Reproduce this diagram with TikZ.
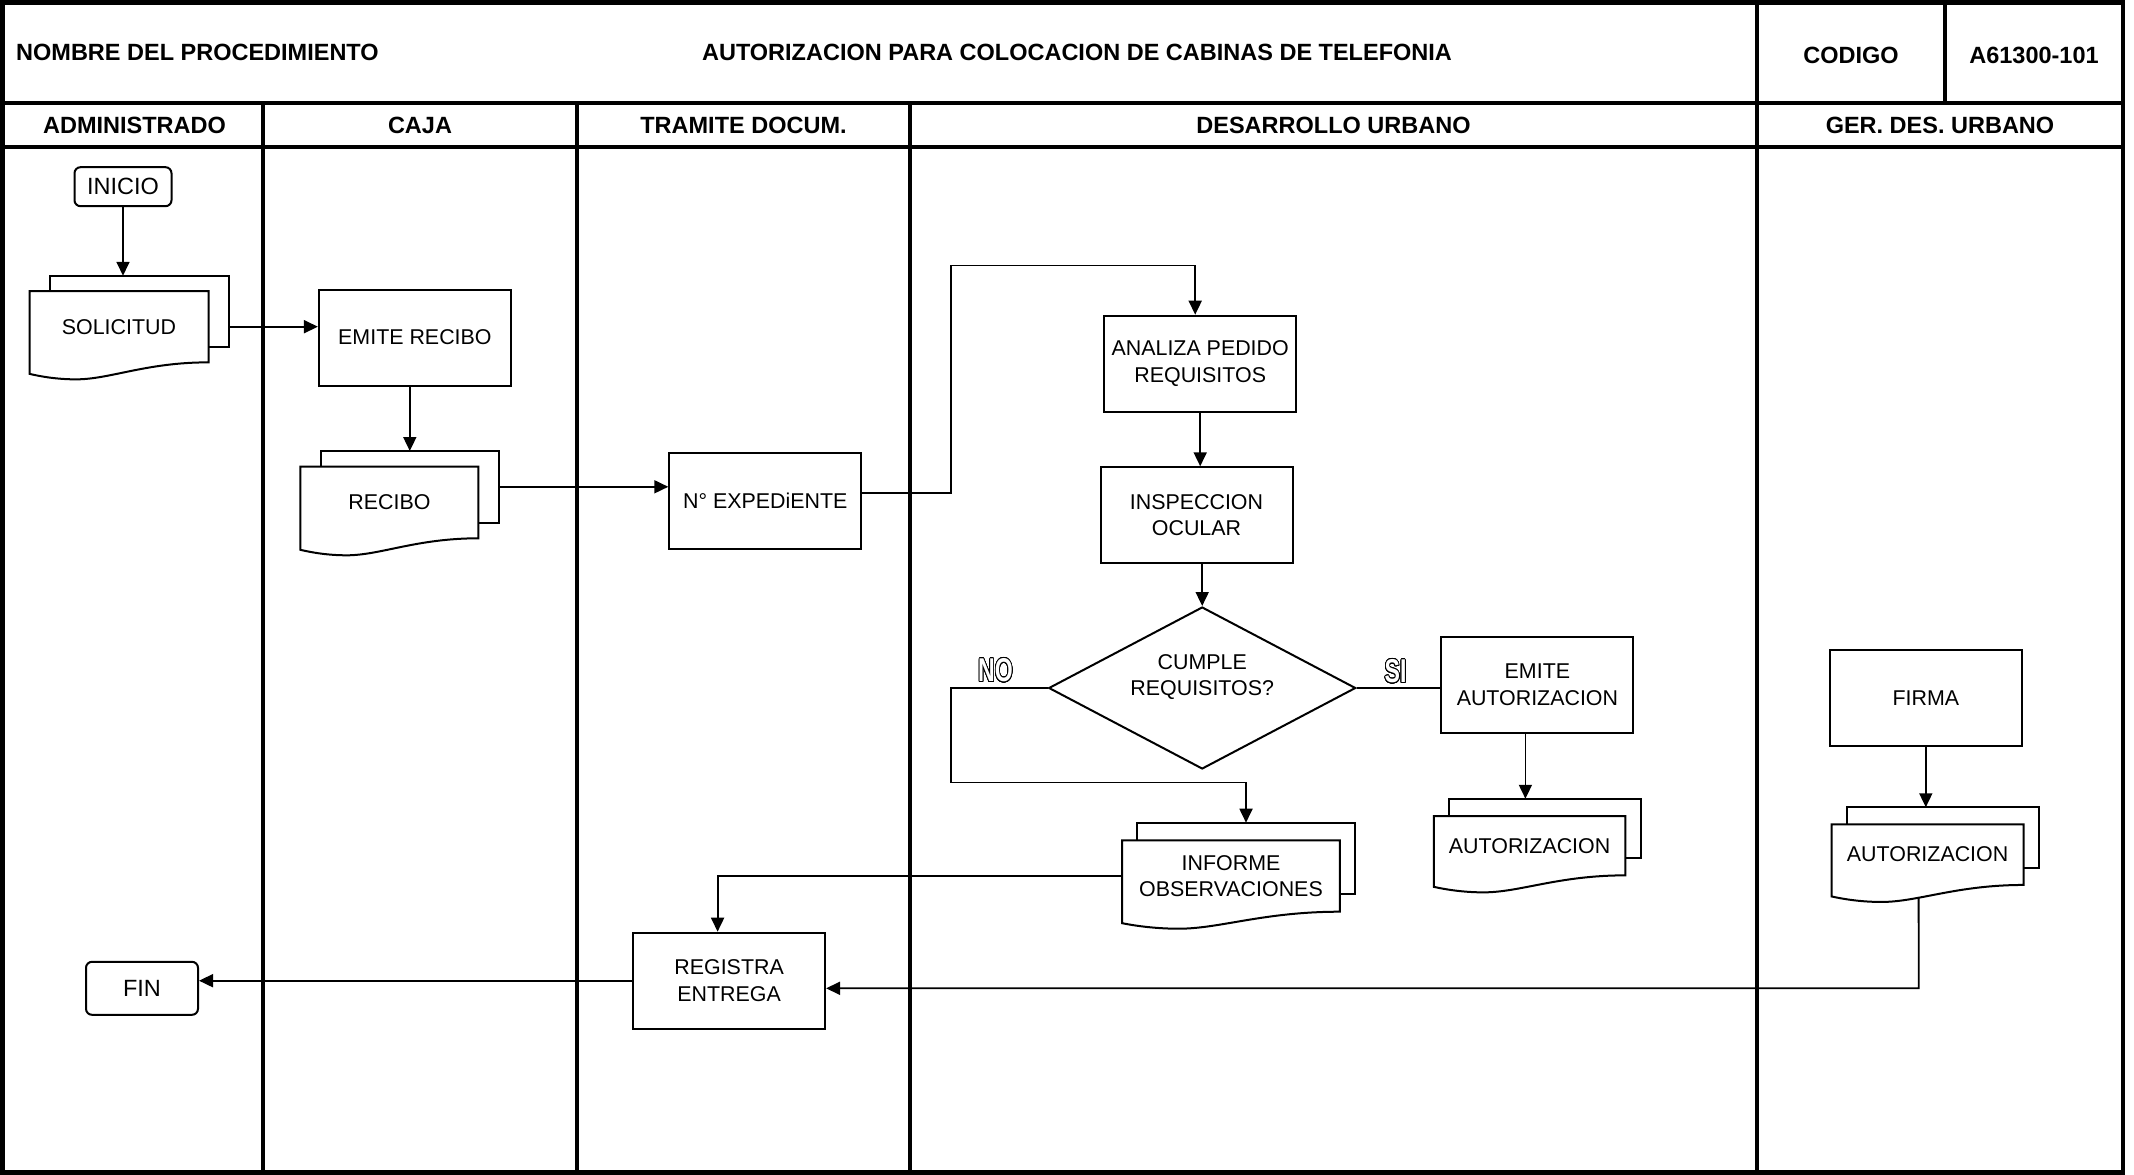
\documentclass[tikz,border=0pt]{standalone}
\usepackage{fontspec}
\setmainfont{Liberation Sans}
\usepackage[copies]{contour}
\contourlength{1.1pt}
\contournumber{24}
\usetikzlibrary{calc,arrows.meta,shapes.geometric}
\newcommand\bodyfnt{\fontsize{21.4pt}{26.5pt}\selectfont}
\newcommand\termfnt{\fontsize{23.5pt}{28pt}\selectfont}
\newcommand\hdrfnt{\fontsize{23.5pt}{28pt}\selectfont\bfseries}
\newcommand\lblfnt{\fontsize{33pt}{36pt}\selectfont\bfseries}
\newcommand\docshape[7]{%
  \node[docback, minimum width=#4pt, minimum height=#5pt] (#1b) at ($(#2,#3)+#6$) {};
  \node[docrect, minimum width=#4pt, minimum height=#5pt] (#1) at (#2,#3) {};
  \draw[docline, fill=white] (#1.north west) -- (#1.north east) -- (#1.south east)
    .. controls ($(#1.south west)!0.65!(#1.south east)$) and ($(#1.south west)!0.45!(#1.south east)+(0,17)$)
    .. ($(#1.south west)!0.26!(#1.south east)+(0,17)$)
    .. controls ($(#1.south west)!0.16!(#1.south east)+(0,17)$) and ($(#1.south west)!0.07!(#1.south east)+(0,14.5)$)
    .. ($(#1.south west)+(0,11.5)$) -- cycle;
  \node[doctext] (#1t) at (#1.center) {#7};
}
\begin{document}
\begin{tikzpicture}[x=1pt,y=-1pt,
  frame/.style={line width=4.5pt},
  hdr/.style={font=\hdrfnt, inner sep=0pt},
  box/.style={draw, line width=2pt, fill=white, minimum width=192pt, minimum height=96pt, align=center, font=\bodyfnt, inner sep=2pt},
  term/.style={draw, line width=2pt, fill=white, rounded corners=6pt, align=center, font=\termfnt, inner sep=2pt},
  decision/.style={draw, line width=2pt, fill=white, diamond, aspect=1.9, minimum width=307pt, minimum height=162pt, inner sep=0pt},
  docback/.style={draw, line width=2pt, fill=white, outer sep=0pt, inner sep=0pt},
  docrect/.style={outer sep=0pt, inner sep=0pt},
  doctext/.style={font=\bodyfnt, align=center, inner sep=0pt},
  docline/.style={line width=2pt, line join=miter},
  conn/.style={line width=1.8pt},
  arr/.style={conn, -{Triangle[length=14pt,width=13pt]}},
  lbl/.style={font=\lblfnt, text=white, inner sep=0pt},
  bodytxt/.style={font=\bodyfnt, align=center, inner sep=0pt}
]
\useasboundingbox (0,0) rectangle (2134,1175);
\fill[white] (0,0) rectangle (2134,1175);

% ---------- frame ----------
\draw[frame] (2.5,2.5) rectangle (2123,1172.5);
\draw[frame] (2.5,103) -- (2123,103);
\draw[frame] (2.5,147) -- (2123,147);
\draw[frame] (263,103) -- (263,1172.5);
\draw[frame] (577,103) -- (577,1172.5);
\draw[frame] (910,103) -- (910,1172.5);
\draw[frame] (1757,2.5) -- (1757,1172.5);
\draw[frame] (1945,2.5) -- (1945,103);

% ---------- header texts ----------
\node[hdr, anchor=west] (tnombre) at (16,52.7) {NOMBRE DEL PROCEDIMIENTO};
\node[hdr] (ttitle) at (1077,52.7) {AUTORIZACION PARA COLOCACION DE CABINAS DE TELEFONIA};
\node[hdr] (tcod) at (1851,55.8) {CODIGO};
\node[hdr] (tcodv) at (2034,55.8) {A61300-101};
\node[hdr] (h1) at (134.5,125) {ADMINISTRADO};
\node[hdr] (h2) at (420,125) {CAJA};
\node[hdr] (h3) at (743.5,125) {TRAMITE DOCUM.};
\node[hdr] (h4) at (1333.5,125) {DESARROLLO URBANO};
\node[hdr] (h5) at (1940,125) {GER. DES. URBANO};

% ---------- shapes ----------
\node[term, minimum width=97pt, minimum height=39pt] (inicio) at (123,186.7) {INICIO};
\node[term, minimum width=112pt, minimum height=53pt] (fin) at (142,988.3) {FIN};

\docshape{sol}{119}{326.7}{179}{71.3}{(20.3,-15.3)}{SOLICITUD}
\docshape{rec}{389.4}{502.5}{178}{71.6}{(20.4,-15.7)}{RECIBO}
\docshape{inf}{1231}{876}{217.6}{71.4}{(15,-17.6)}{INFORME\\OBSERVACIONES}
\docshape{autA}{1529.6}{845.7}{191.5}{59.3}{(15.6,-17.3)}{AUTORIZACION}
\docshape{autB}{1927.6}{854.6}{192}{60.7}{(15.5,-17)}{AUTORIZACION}

\node[box] (emite) at (414.9,337.5) {};
\node[bodytxt] (emitet) at (emite.center) {EMITE RECIBO};
\node[box] (exped) at (765.3,501) {};
\node[bodytxt] (expedt) at (exped.center) {N° EXPEDiENTE};
\node[box] (analiza) at (1200.2,363.7) {};
\node[bodytxt] (analizat) at (analiza.center) {ANALIZA PEDIDO\\REQUISITOS};
\node[box] (insp) at (1196.5,515.3) {};
\node[bodytxt] (inspt) at (insp.center) {INSPECCION\\OCULAR};
\node[box] (emaut) at (1537.4,684.5) {};
\node[bodytxt] (emautt) at (emaut.center) {EMITE\\AUTORIZACION};
\node[box] (firma) at (1925.8,698.3) {};
\node[bodytxt] (firmat) at (firma.center) {FIRMA};
\node[box] (regis) at (729.1,980.7) {};
\node[bodytxt] (regist) at (regis.center) {REGISTRA\\ENTREGA};

\node[decision] (dec) at (1202.2,688) {};
\node[bodytxt] (dect) at (1202.2,677) {CUMPLE\\REQUISITOS?};

\node[lbl] (lno) at (995.5,671) {\scalebox{0.7}[1]{\contour{black}{NO}}};
\node[lbl] (lsi) at (1395.5,672) {\scalebox{0.7}[1]{\contour{black}{SI}}};

% ---------- connectors ----------
\coordinate (c1) at (951.3,265.5);
\coordinate (c2) at (951.3,782.5);
\coordinate (c3) at (1918.7,988.3);
\coordinate (a1) at ($(emaut.south)+(-12,0)$);
\coordinate (a2) at ($(autB.south)+(-9,13)$);
\coordinate (a3) at ($(regis.north)+(-11.5,0)$);

\draw[arr] (inicio.south) -- (inicio.south |- solb.north);
\draw[arr] (sol.center -| solb.east) -- (sol.center -| emite.west);
\draw[arr] (recb.north |- emite.south) -- (recb.north);
\draw[arr] (recb.east) -- (recb.east -| exped.west);
\draw[arr] ($(exped.east)+(0,-8)$) -| (c1) -| ($(analiza.north)+(-5,0)$);
\draw[arr] (analiza.south) -- (analiza.south |- insp.north);
\draw[arr] (insp.south -| dec.north) -- (dec.north);
\draw[arr] (dec.west) -| (c2) -| (infb.north);
\draw[conn] (dec.east) -- (dec.east -| emaut.west);
\draw[arr] (a1) -- (a1 |- autAb.north);
\draw[arr] (firma.south) -- (firma.south |- autBb.north);
\draw[arr] (a2) -- (c3) -- (c3 -| regis.east);
\draw[arr] (inf.west) -| (a3);
\draw[arr] (regis.west) -- (regis.west -| fin.east);
\end{tikzpicture}
\end{document}
